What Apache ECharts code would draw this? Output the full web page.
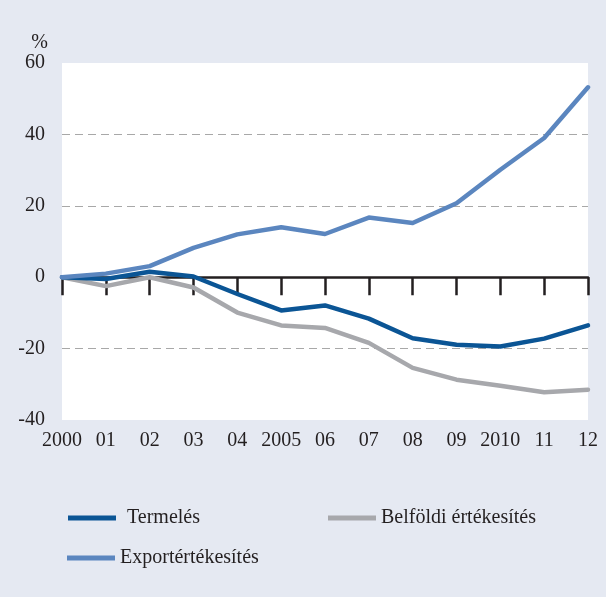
<!DOCTYPE html>
<html>
<head>
<meta charset="utf-8">
<script src="https://cdn.jsdelivr.net/npm/echarts@6/dist/echarts.min.js"></script>
<style>
  html, body { margin: 0; padding: 0; background: #e5e9f2; }
  #chart { width: 606px; height: 597px; }
</style>
</head>
<body>
<div id="chart"></div>
<script>
// Years on the horizontal axis and their printed labels
const years = ['2000', '01', '02', '03', '04', '2005', '06', '07', '08', '09', '2010', '11', '12'];

// Cumulative change since 2000, per cent
const termeles = [0, -0.5, 1.5, 0.2, -4.7, -9.3, -7.9, -11.6, -17.1, -18.9, -19.4, -17.2, -13.5];
const belfoldi = [0, -2.5, 0, -2.9, -9.9, -13.5, -14.2, -18.4, -25.4, -28.7, -30.4, -32.2, -31.5];
const export_ = [0, 1.0, 3.1, 8.2, 12.0, 14.0, 12.1, 16.7, 15.2, 20.7, 30.1, 39.0, 53.2];

// Value axis ticks
const yMin = -40, yMax = 60, yStep = 20;

const serif = "'Liberation Serif', 'DejaVu Serif', serif";
const textColor = '#231f20';
const cTermeles = '#0b5595';
const cBelfoldi = '#a7a8ac';
const cExport = '#5b86bf';
const gridDash = '#a8a8a8';

const chart = echarts.init(document.getElementById('chart'), null, { renderer: 'canvas' });

function legendAt(name, left, top, gap) {
  return {
    data: [name],
    left: left,
    top: top,
    orient: 'horizontal',
    icon: 'rect',
    itemWidth: 48,
    itemHeight: 5,
    selectedMode: false,
    textStyle: { fontFamily: serif, fontSize: 20, fontWeight: 'normal', color: textColor, padding: [0, 0, 0, gap] }
  };
}

chart.setOption({
  backgroundColor: '#e5e9f2',
  animation: false,
  textStyle: { fontFamily: serif },
  grid: { left: 62, right: 18, top: 63, bottom: 177, containLabel: false, show: true, backgroundColor: '#ffffff', borderWidth: 0 },
  xAxis: [
    {
      type: 'category',
      data: years,
      boundaryGap: false,
      axisLine: { show: true, onZero: true, lineStyle: { color: '#231f20', width: 2.5 } },
      axisTick: { show: true, inside: false, length: 18, interval: 0, lineStyle: { color: '#231f20', width: 2.5 } },
      axisLabel: { show: false },
      splitLine: { show: false }
    },
    {
      type: 'category',
      data: years,
      boundaryGap: false,
      position: 'bottom',
      axisLine: { show: false, onZero: false },
      axisTick: { show: false },
      axisLabel: { show: true, interval: 0, margin: 11, fontFamily: serif, fontSize: 20, color: textColor },
      splitLine: { show: false }
    }
  ],
  yAxis: {
    type: 'value',
    min: yMin,
    max: yMax,
    interval: yStep,
    name: '%',
    nameLocation: 'end',
    nameGap: 10,
    nameTextStyle: { fontFamily: serif, fontSize: 20, color: textColor, align: 'right', padding: [0, 14, 0, 0] },
    axisLine: { show: false },
    axisTick: { show: false },
    axisLabel: { margin: 17, fontFamily: serif, fontSize: 20, color: textColor },
    // no dashed line on the plot's top and bottom edges
    splitLine: { show: true, lineStyle: { color: ['transparent', gridDash, gridDash, gridDash, gridDash, 'transparent'], width: 1.2, type: [8, 5] } }
  },
  legend: [
    legendAt('Termelés', 63, 503, 6),
    legendAt('Belföldi értékesítés', 323, 503, 0),
    legendAt('Exportértékesítés', 62, 543, 0)
  ],
  series: [
    {
      name: 'Belföldi értékesítés',
      type: 'line',
      data: belfoldi,
      showSymbol: false,
      symbol: 'none',
      color: cBelfoldi,
      lineStyle: { color: cBelfoldi, width: 4.5, cap: 'round', join: 'round' }
    },
    {
      name: 'Termelés',
      type: 'line',
      data: termeles,
      showSymbol: false,
      symbol: 'none',
      color: cTermeles,
      lineStyle: { color: cTermeles, width: 4.5, cap: 'round', join: 'round' }
    },
    {
      name: 'Exportértékesítés',
      type: 'line',
      data: export_,
      showSymbol: false,
      symbol: 'none',
      color: cExport,
      lineStyle: { color: cExport, width: 4.5, cap: 'round', join: 'round' }
    }
  ]
});
</script>
</body>
</html>
